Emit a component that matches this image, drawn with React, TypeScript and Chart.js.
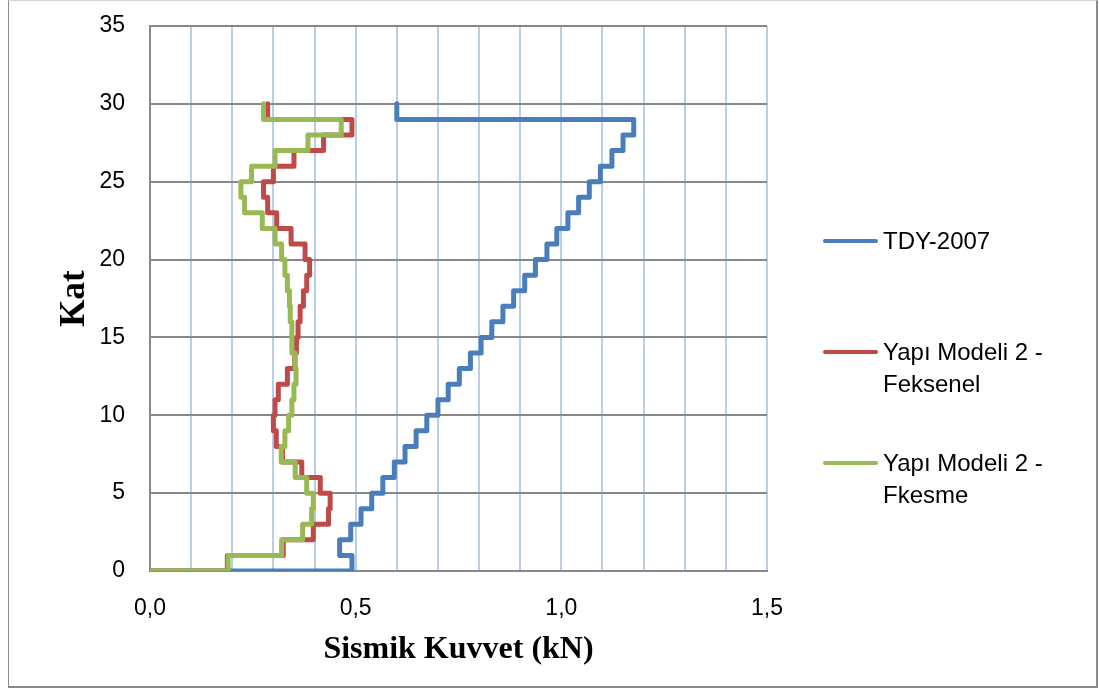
import React, { useEffect, useRef } from 'react';
import { Chart, registerables } from 'chart.js';

Chart.register(...registerables);

// ---- data ----
const floors = [1, 2, 3, 4, 5, 6, 7, 8, 9, 10, 11, 12, 13, 14, 15, 16, 17, 18, 19, 20, 21, 22, 23, 24, 25, 26, 27, 28, 29, 30];
const baseFloor = 0;
const baseForce = 0;

const tdy2007 = [0.491, 0.461, 0.488, 0.513, 0.539, 0.566, 0.594, 0.620, 0.647, 0.673, 0.700, 0.725, 0.752, 0.779, 0.805, 0.831, 0.858, 0.884, 0.911, 0.937, 0.965, 0.989, 1.016, 1.042, 1.068, 1.095, 1.123, 1.150, 1.176, 0.600];
const feksenel = [0.188, 0.324, 0.397, 0.434, 0.438, 0.414, 0.369, 0.322, 0.307, 0.300, 0.304, 0.312, 0.334, 0.352, 0.356, 0.360, 0.365, 0.373, 0.381, 0.388, 0.377, 0.343, 0.308, 0.286, 0.276, 0.300, 0.350, 0.422, 0.491, 0.286];
const fkesme = [0.190, 0.320, 0.371, 0.393, 0.397, 0.381, 0.353, 0.319, 0.328, 0.337, 0.345, 0.350, 0.355, 0.353, 0.345, 0.345, 0.341, 0.339, 0.334, 0.328, 0.320, 0.304, 0.273, 0.230, 0.221, 0.247, 0.304, 0.384, 0.465, 0.276];

const seriesNames = ['TDY-2007', 'Yapı Modeli 2 - Feksenel', 'Yapı Modeli 2 - Fkesme'];
const seriesValues = [tdy2007, feksenel, fkesme];
const seriesColors = ['#4A7EBB', '#BE4B48', '#98B954'];

const xTickLabels = ['0,0', '0,5', '1,0', '1,5'];
const yTickLabels = ['0', '5', '10', '15', '20', '25', '30', '35'];
const xAxisTitle = 'Sismik Kuvvet (kN)';
const yAxisTitle = 'Kat';

function toSteps(values: number[]) {
  return [{ x: baseForce, y: baseFloor }, ...values.map((v, i) => ({ x: v, y: floors[i] }))];
}

const W = 1099;
const H = 691;

export default function App() {
  const ref = useRef<HTMLCanvasElement | null>(null);

  useEffect(() => {
    if (!ref.current) return;
    const chart = new Chart(ref.current, {
      type: 'scatter',
      data: {
        datasets: seriesValues.map((vals, i) => ({
          label: seriesNames[i],
          data: toSteps(vals),
          showLine: true,
          stepped: true,
          borderColor: seriesColors[i],
          backgroundColor: seriesColors[i],
          borderWidth: 5,
          borderJoinStyle: 'round',
          borderCapStyle: 'round',
          pointRadius: 0,
          pointHoverRadius: 0,
          fill: false,
          order: 3 - i,
        })),
      },
      options: {
        animation: false,
        responsive: false,
        maintainAspectRatio: false,
        layout: { autoPadding: false, padding: { left: 0, top: 26, right: W - 767, bottom: 0 } },
        plugins: { legend: { display: false }, tooltip: { enabled: false } },
        scales: {
          x: {
            type: 'linear',
            min: 0,
            max: 1.5,
            afterFit: (s: any) => { s.height = H - 571; s.paddingLeft = 0; s.paddingRight = 0; },
            grid: { color: '#B9CDE5', lineWidth: 2, drawTicks: false },
            border: { color: '#888888', width: 2 },
            ticks: {
              stepSize: 0.1,
              autoSkip: false,
              maxRotation: 0,
              padding: 24,
              color: '#000',
              font: { family: 'Liberation Sans', size: 23 },
              callback: (value: any) => {
                const k = Number(value) / 0.5;
                const r = Math.round(k);
                return Math.abs(k - r) < 1e-6 ? xTickLabels[r] : '';
              },
            },
            title: {
              display: true,
              text: xAxisTitle,
              color: '#000',
              font: { family: 'Liberation Serif', size: 32, weight: 'bold' },
              padding: { top: 0, bottom: 22 },
            },
          },
          y: {
            type: 'linear',
            min: 0,
            max: 35,
            afterFit: (s: any) => { s.width = 150; s.paddingTop = 0; s.paddingBottom = 0; },
            grid: { color: '#888888', lineWidth: 2, drawTicks: false },
            border: { color: '#888888', width: 2 },
            ticks: {
              stepSize: 5,
              padding: 25,
              color: '#000',
              font: { family: 'Liberation Sans', size: 23 },
              callback: (value: any) => yTickLabels[Math.round(Number(value) / 5)] ?? '',
            },
            title: {
              display: true,
              text: yAxisTitle,
              color: '#000',
              font: { family: 'Liberation Serif', size: 35, weight: 'bold' },
              padding: { top: 54, bottom: 0 },
            },
          },
        },
      },
    } as any);
    return () => chart.destroy();
  }, []);

  return (
    <div style={{ position: 'fixed', left: 0, top: 0, width: W, height: H, background: '#fff' }}>
      <canvas ref={ref} width={W} height={H} style={{ position: 'absolute', left: 0, top: 0, width: W, height: H }} />
      <div
        style={{
          position: 'absolute', left: 8, top: 0, width: 1090, height: 688, boxSizing: 'border-box',
          border: '1px solid #8a8a8a', borderTopColor: '#d4d4d4', borderRightWidth: 2, borderBottomWidth: 2,
          pointerEvents: 'none',
        }}
      />
      <div style={{ position: 'absolute', left: 823, top: 225, width: 270 }}>
        {seriesNames.map((name, i) => (
          <div key={name} style={{ position: 'relative', height: 111 }}>
            <div
              style={{
                position: 'absolute', left: 0, top: 14, width: 55, height: 4, borderRadius: 2,
                background: seriesColors[i],
              }}
            />
            <div
              style={{
                position: 'absolute', left: 60, top: 0, width: 205,
                fontFamily: 'Liberation Sans', fontSize: 24, lineHeight: '32px', color: '#000',
              }}
            >
              {name}
            </div>
          </div>
        ))}
      </div>
    </div>
  );
}
